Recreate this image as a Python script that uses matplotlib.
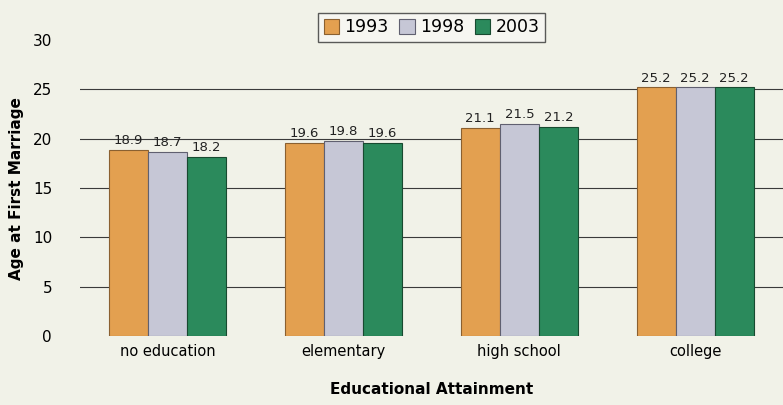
import numpy as np
import matplotlib.pyplot as plt

categories = ["no education", "elementary", "high school", "college"]
years = ["1993", "1998", "2003"]
v1993 = [18.9, 19.6, 21.1, 25.2]
v1998 = [18.7, 19.8, 21.5, 25.2]
v2003 = [18.2, 19.6, 21.2, 25.2]

colors = ["#e3a050", "#c6c7d6", "#2b8a5c"]
edges = ["#8a6030", "#606070", "#184a30"]
bg = "#f1f2e8"

fig = plt.figure(figsize=(7.83, 4.05), dpi=100, facecolor=bg)
ax = fig.add_axes([0.102, 0.170, 0.898, 0.731], facecolor=bg)

x = np.arange(len(categories))
w = 0.222
for i, (vals, lab) in enumerate(zip([v1993, v1998, v2003], years)):
    pos = x + (i - 1) * w
    bars = ax.bar(pos, vals, w, color=colors[i], edgecolor=edges[i], linewidth=0.8,
                  label=lab, zorder=3)
    for b, v in zip(bars, vals):
        ax.text(b.get_x() + b.get_width() / 2, v + 0.3, f"{v:.1f}", ha="center",
                va="bottom", fontsize=9.5, color="#222222", zorder=4)

ax.set_xlim(-0.5, 3.5)
ax.set_ylim(0, 30)
ax.set_yticks(range(0, 31, 5))
for y in range(5, 30, 5):
    ax.axhline(y, color="#3a3a3a", linewidth=0.8, zorder=1)
ax.set_xticks(x)
ax.set_xticklabels(categories, fontsize=10.5)
ax.tick_params(axis="x", length=0, pad=6)
ax.tick_params(axis="y", length=0, labelsize=11, pad=20)
for s in ax.spines.values():
    s.set_visible(False)
ax.axhline(0, color="#777777", linewidth=0.6, zorder=1)

ax.set_ylabel("Age at First Marriage", fontsize=11, fontweight="bold", labelpad=6)
ax.set_xlabel("Educational Attainment", fontsize=11, fontweight="bold", labelpad=16)

leg = ax.legend(loc="upper center", bbox_to_anchor=(0.50, 1.12), ncol=3, frameon=True,
                fontsize=12.5, handlelength=0.9, handleheight=0.9, handletextpad=0.3,
                columnspacing=0.6, borderpad=0.3, fancybox=False)
leg.get_frame().set_edgecolor("#333333")
leg.get_frame().set_facecolor("#f8f8f4")
for t in leg.get_texts():
    t.set_text(t.get_text())

fig.savefig("out.png", dpi=100, facecolor=bg)
